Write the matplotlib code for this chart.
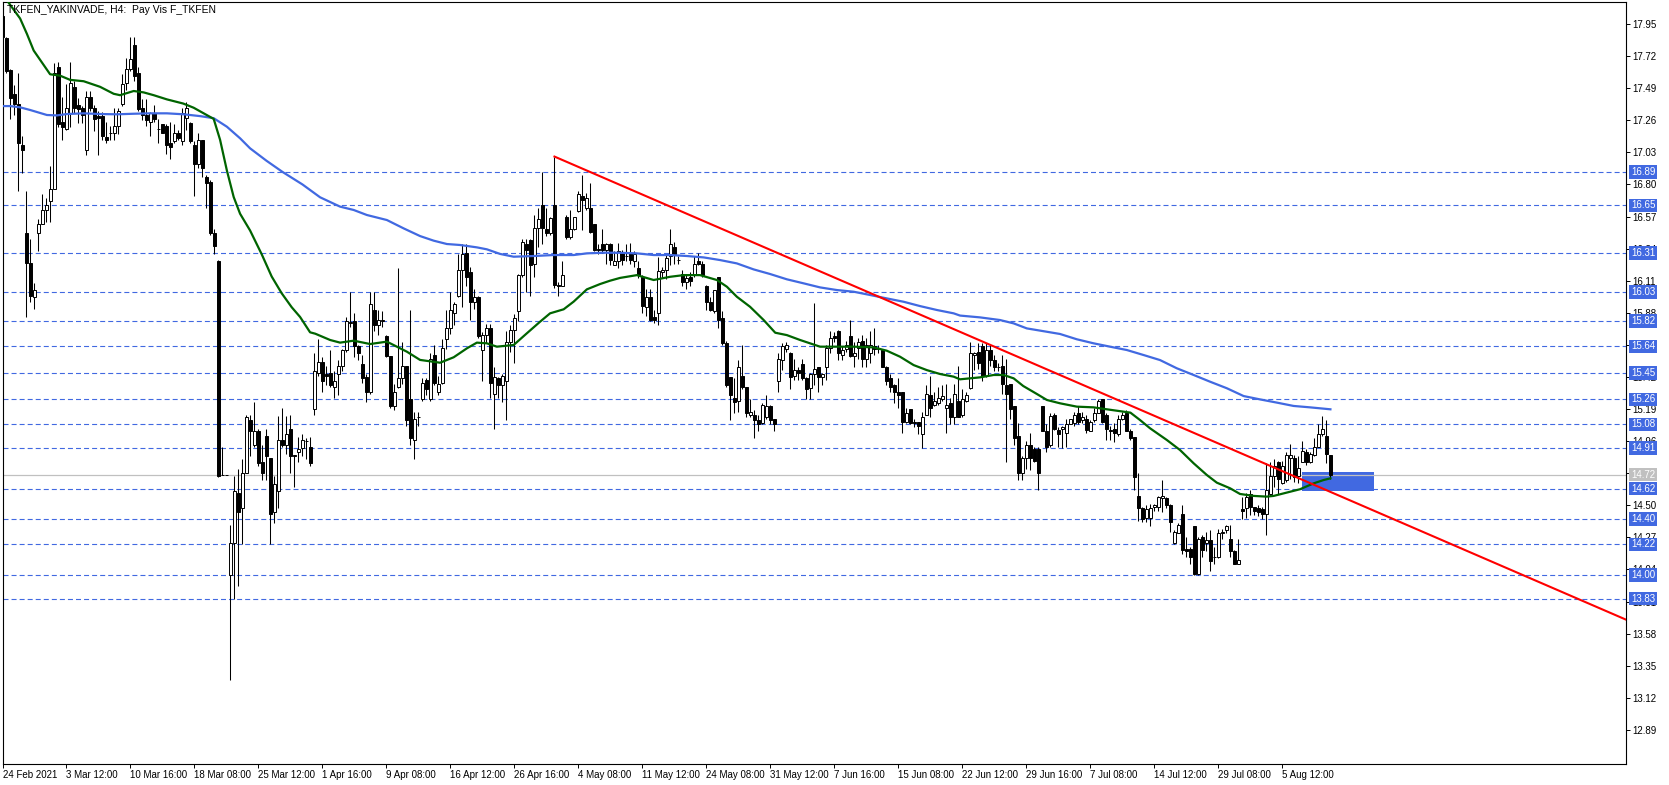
import matplotlib
matplotlib.use("Agg")
import matplotlib.pyplot as plt
from matplotlib.patches import Rectangle
import numpy as np

plt.rcParams['font.family'] = ['Liberation Sans', 'DejaVu Sans']
plt.rcParams['lines.scale_dashes'] = False

title = "TKFEN_YAKINVADE, H4:  Pay Vis F_TKFEN"

opens = [
    18.01, 17.85, 17.62, 17.45, 17.38, 17.08, 16.45, 16.24, 15.99, 16.45,
    16.52, 16.62, 16.68, 16.77, 17.64, 17.25, 17.20, 17.31, 17.50, 17.37,
    17.35, 17.05, 17.43, 17.35, 17.29, 17.29, 17.14, 17.17, 17.17, 17.22,
    17.38, 17.53, 17.63, 17.80, 17.60, 17.35, 17.30, 17.25, 17.31, 17.20,
    17.23, 17.22, 17.10, 17.11, 17.17, 17.11, 17.28, 17.24, 17.08, 16.95,
    17.12, 16.85, 16.82, 16.45, 16.25, 14.72, 14.72, 14.00, 14.23, 14.59,
    14.48, 14.73, 15.11, 14.93, 15.03, 14.81, 15.00, 14.84, 14.45, 14.60,
    14.97, 14.93, 15.05, 14.86, 14.88, 14.91, 14.96, 14.92, 15.19, 15.45,
    15.53, 15.44, 15.45, 15.35, 15.44, 15.50, 15.61, 15.81, 15.82, 15.64,
    15.51, 15.42, 15.31, 15.90, 15.79, 15.82, 15.71, 15.57, 15.21, 15.35,
    15.41, 15.50, 15.26, 14.97, 15.13, 15.26, 15.40, 15.26, 15.58, 15.31,
    15.38, 15.69, 15.77, 15.88, 16.00, 16.19, 16.31, 16.17, 15.96, 15.99,
    15.61, 15.72, 15.77, 15.30, 15.41, 15.36, 15.39, 15.67, 15.76, 15.89,
    16.15, 16.37, 16.40, 16.23, 16.49, 16.65, 16.48, 16.45, 16.65, 16.08,
    16.07, 16.57, 16.42, 16.48, 16.61, 16.72, 16.63, 16.63, 16.52, 16.34,
    16.37, 16.33, 16.37, 16.22, 16.25, 16.31, 16.29, 16.31, 16.25, 16.20,
    16.14, 15.92, 15.99, 15.85, 15.88, 16.17, 16.19, 16.29, 16.35, 16.26,
    16.16, 16.10, 16.14, 16.15, 16.25, 16.23, 16.07, 15.96, 15.89, 16.14,
    15.84, 15.66, 15.42, 15.27, 15.25, 15.43, 15.35, 15.15, 15.15, 15.11,
    15.09, 15.13, 15.21, 15.12, 15.39, 15.54, 15.62, 15.59, 15.43, 15.47,
    15.51, 15.41, 15.34, 15.44, 15.49, 15.42, 15.49, 15.63, 15.71, 15.75,
    15.58, 15.62, 15.71, 15.57, 15.63, 15.68, 15.55, 15.59, 15.64, 15.62,
    15.61, 15.49, 15.41, 15.36, 15.31, 15.31, 15.10, 15.19, 15.10, 15.10,
    15.01, 15.15, 15.29, 15.22, 15.23, 15.26, 15.20, 15.23, 15.13, 15.25,
    15.15, 15.25, 15.34, 15.58, 15.60, 15.64, 15.43, 15.61, 15.54, 15.49,
    15.50, 15.36, 15.37, 15.21, 15.00, 14.73, 14.84, 14.93, 14.90, 14.90,
    15.21, 15.03, 14.93, 15.15, 15.04, 15.05, 15.02, 15.08, 15.09, 15.16,
    15.11, 15.12, 15.03, 15.11, 15.16, 15.26, 15.15, 15.04, 15.05, 15.01,
    15.12, 15.16, 15.03, 14.99, 14.57, 14.48, 14.41, 14.41, 14.49, 14.49,
    14.55, 14.55, 14.50, 14.23, 14.30, 14.44, 14.19, 14.19, 14.35, 14.01,
    14.27, 14.23, 14.25, 14.13, 14.13, 14.30, 14.32, 14.26, 14.17, 14.08,
    14.47, 14.48, 14.58, 14.49, 14.48, 14.47, 14.44, 14.58, 14.71, 14.81,
    14.66, 14.68, 14.84, 14.84, 14.71, 14.81, 14.88, 14.81, 14.86, 14.92,
    15.01, 15.00, 14.86,
]

highs = [
    18.08, 17.86, 17.63, 17.51, 17.60, 17.15, 16.75, 16.41, 16.09, 16.55,
    16.73, 16.70, 16.93, 17.67, 17.68, 17.43, 17.52, 17.68, 17.54, 17.42,
    17.36, 17.47, 17.47, 17.37, 17.33, 17.32, 17.25, 17.22, 17.35, 17.35,
    17.59, 17.71, 17.86, 17.86, 17.64, 17.41, 17.41, 17.32, 17.37, 17.27,
    17.23, 17.23, 17.25, 17.23, 17.19, 17.35, 17.39, 17.25, 17.11, 17.17,
    17.12, 16.87, 16.83, 16.48, 16.26, 14.92, 14.72, 14.36, 14.71, 14.76,
    14.83, 15.15, 15.15, 15.24, 15.05, 14.93, 15.05, 14.84, 14.71, 15.14,
    15.20, 15.14, 15.15, 14.86, 14.99, 15.01, 14.98, 14.99, 15.59, 15.69,
    15.56, 15.50, 15.61, 15.46, 15.54, 15.62, 15.85, 16.03, 15.88, 15.65,
    15.58, 15.44, 16.03, 16.03, 15.90, 15.89, 15.72, 15.57, 15.37, 16.20,
    15.67, 15.50, 15.90, 15.17, 15.17, 15.41, 15.41, 15.59, 15.65, 15.43,
    15.69, 15.90, 16.03, 15.96, 16.30, 16.37, 16.37, 16.21, 16.05, 16.00,
    15.74, 15.80, 15.80, 15.49, 15.42, 15.44, 15.75, 15.79, 15.87, 16.16,
    16.41, 16.41, 16.41, 16.58, 16.63, 16.89, 16.63, 16.57, 17.00, 16.10,
    16.25, 16.58, 16.62, 16.57, 16.75, 16.87, 16.74, 16.81, 16.52, 16.37,
    16.48, 16.38, 16.38, 16.32, 16.38, 16.33, 16.37, 16.38, 16.32, 16.25,
    16.15, 16.05, 16.05, 15.90, 16.28, 16.21, 16.30, 16.48, 16.39, 16.29,
    16.19, 16.16, 16.17, 16.29, 16.31, 16.25, 16.08, 15.99, 16.04, 16.14,
    15.89, 15.68, 15.42, 15.41, 15.54, 15.65, 15.35, 15.26, 15.18, 15.15,
    15.23, 15.29, 15.22, 15.12, 15.59, 15.66, 15.67, 15.60, 15.55, 15.49,
    15.55, 15.42, 15.45, 15.95, 15.49, 15.45, 15.65, 15.75, 15.74, 15.76,
    15.64, 15.68, 15.83, 15.67, 15.70, 15.72, 15.70, 15.75, 15.77, 15.65,
    15.62, 15.50, 15.44, 15.37, 15.41, 15.31, 15.20, 15.19, 15.12, 15.10,
    15.17, 15.36, 15.43, 15.31, 15.35, 15.36, 15.37, 15.27, 15.37, 15.50,
    15.33, 15.31, 15.67, 15.60, 15.66, 15.66, 15.66, 15.65, 15.58, 15.52,
    15.58, 15.55, 15.37, 15.21, 15.09, 14.85, 14.96, 15.02, 14.92, 14.92,
    15.21, 15.08, 15.16, 15.16, 15.06, 15.07, 15.12, 15.12, 15.17, 15.21,
    15.17, 15.15, 15.11, 15.20, 15.26, 15.26, 15.16, 15.07, 15.09, 15.15,
    15.17, 15.18, 15.05, 14.99, 14.73, 14.49, 14.50, 14.51, 14.51, 14.57,
    14.68, 14.56, 14.51, 14.32, 14.37, 14.50, 14.27, 14.20, 14.35, 14.27,
    14.29, 14.31, 14.32, 14.20, 14.33, 14.33, 14.36, 14.36, 14.18, 14.26,
    14.56, 14.59, 14.61, 14.49, 14.50, 14.49, 14.80, 14.81, 14.83, 14.82,
    14.82, 14.88, 14.94, 14.86, 14.85, 14.96, 14.90, 14.88, 14.98, 15.08,
    15.14, 15.11, 14.86,
]

lows = [
    17.84, 17.60, 17.27, 17.30, 16.75, 16.88, 15.85, 15.96, 15.91, 16.32,
    16.52, 16.53, 16.53, 16.77, 17.21, 17.12, 17.19, 17.21, 17.31, 17.24,
    17.24, 17.01, 17.33, 17.18, 17.01, 17.12, 17.10, 17.12, 17.12, 17.16,
    17.36, 17.48, 17.61, 17.54, 17.33, 17.26, 17.22, 17.15, 17.25, 17.10,
    17.17, 17.02, 16.98, 17.10, 17.12, 17.08, 17.19, 17.10, 16.72, 16.92,
    16.85, 16.63, 16.44, 16.30, 14.70, 14.72, 14.72, 13.25, 13.83, 13.92,
    14.22, 14.73, 14.85, 14.92, 14.78, 14.68, 14.68, 14.22, 14.37, 14.48,
    14.92, 14.87, 14.73, 14.63, 14.81, 14.85, 14.83, 14.78, 15.15, 15.43,
    15.31, 15.36, 15.35, 15.27, 15.29, 15.46, 15.60, 15.78, 15.56, 15.54,
    15.38, 15.24, 15.30, 15.75, 15.72, 15.78, 15.56, 15.20, 15.18, 15.34,
    15.37, 15.07, 14.93, 14.83, 15.07, 15.25, 15.29, 15.25, 15.36, 15.29,
    15.37, 15.62, 15.73, 15.79, 15.99, 15.92, 16.07, 15.83, 15.91, 15.70,
    15.39, 15.66, 15.27, 15.05, 15.27, 15.24, 15.11, 15.60, 15.52, 15.82,
    16.14, 16.03, 16.00, 16.14, 16.35, 16.37, 16.43, 16.44, 16.06, 16.00,
    16.07, 16.41, 16.41, 16.47, 16.60, 16.47, 16.62, 16.45, 16.32, 16.30,
    16.31, 16.23, 16.22, 16.22, 16.20, 16.22, 16.25, 16.23, 16.21, 16.13,
    15.88, 15.86, 15.82, 15.81, 15.79, 16.13, 16.12, 16.22, 16.23, 16.23,
    16.07, 16.05, 16.07, 16.14, 16.22, 16.14, 15.90, 15.89, 15.88, 15.77,
    15.65, 15.35, 15.11, 15.16, 15.17, 15.33, 15.13, 15.13, 14.98, 15.03,
    15.08, 15.12, 15.08, 15.03, 15.31, 15.47, 15.60, 15.33, 15.40, 15.40,
    15.40, 15.26, 15.26, 15.36, 15.31, 15.36, 15.40, 15.59, 15.67, 15.54,
    15.54, 15.60, 15.56, 15.49, 15.55, 15.49, 15.49, 15.52, 15.58, 15.59,
    15.49, 15.36, 15.31, 15.23, 15.20, 15.02, 15.09, 15.08, 15.06, 15.01,
    14.91, 15.15, 15.13, 15.21, 15.22, 15.25, 15.02, 15.08, 15.08, 15.13,
    15.13, 15.24, 15.33, 15.47, 15.48, 15.39, 15.42, 15.50, 15.46, 15.46,
    15.30, 14.81, 15.12, 14.93, 14.68, 14.68, 14.76, 14.75, 14.81, 14.61,
    15.03, 14.88, 14.92, 15.04, 14.92, 14.91, 14.92, 15.08, 15.07, 15.08,
    15.09, 15.02, 15.03, 15.10, 15.16, 15.09, 14.97, 14.97, 14.95, 15.00,
    15.11, 15.03, 14.97, 14.61, 14.39, 14.38, 14.38, 14.35, 14.46, 14.46,
    14.45, 14.48, 14.31, 14.22, 14.30, 14.15, 14.13, 14.08, 14.00, 14.00,
    14.13, 14.17, 14.03, 14.08, 14.12, 14.26, 14.30, 14.13, 14.08, 14.08,
    14.40, 14.41, 14.43, 14.43, 14.42, 14.40, 14.29, 14.57, 14.63, 14.58,
    14.65, 14.67, 14.69, 14.67, 14.66, 14.81, 14.79, 14.80, 14.85, 14.92,
    15.00, 14.80, 14.69,
]

closes = [
    17.86, 17.61, 17.42, 17.38, 17.10, 17.05, 16.24, 16.00, 16.04, 16.52,
    16.62, 16.65, 16.77, 17.60, 17.23, 17.21, 17.35, 17.53, 17.35, 17.34,
    17.30, 17.43, 17.35, 17.27, 17.28, 17.15, 17.12, 17.17, 17.22, 17.33,
    17.52, 17.63, 17.70, 17.58, 17.34, 17.30, 17.26, 17.31, 17.27, 17.20,
    17.17, 17.08, 17.07, 17.17, 17.13, 17.31, 17.35, 17.11, 16.95, 17.12,
    16.92, 16.81, 16.45, 16.36, 14.71, 14.72, 14.72, 14.23, 14.60, 14.45,
    14.73, 15.13, 15.03, 15.03, 14.80, 14.73, 14.85, 14.44, 14.65, 14.97,
    14.93, 15.01, 14.85, 14.85, 14.90, 14.97, 14.96, 14.80, 15.46, 15.53,
    15.39, 15.43, 15.36, 15.39, 15.50, 15.61, 15.82, 15.81, 15.64, 15.59,
    15.41, 15.31, 15.94, 15.79, 15.83, 15.83, 15.57, 15.21, 15.31, 15.41,
    15.50, 15.11, 14.98, 15.12, 15.13, 15.38, 15.33, 15.55, 15.38, 15.37,
    15.63, 15.77, 15.90, 15.94, 16.19, 16.30, 16.14, 15.96, 15.99, 15.71,
    15.72, 15.77, 15.38, 15.42, 15.36, 15.43, 15.67, 15.76, 15.84, 16.15,
    16.39, 16.33, 16.22, 16.49, 16.55, 16.49, 16.45, 16.56, 16.08, 16.07,
    16.15, 16.42, 16.48, 16.57, 16.73, 16.69, 16.70, 16.46, 16.33, 16.33,
    16.33, 16.37, 16.26, 16.25, 16.32, 16.26, 16.29, 16.26, 16.30, 16.15,
    15.93, 15.99, 15.83, 15.83, 16.18, 16.19, 16.27, 16.37, 16.30, 16.26,
    16.10, 16.13, 16.11, 16.23, 16.23, 16.15, 15.96, 15.90, 16.04, 15.83,
    15.66, 15.36, 15.29, 15.24, 15.49, 15.35, 15.16, 15.17, 15.11, 15.08,
    15.22, 15.21, 15.11, 15.08, 15.55, 15.64, 15.65, 15.42, 15.47, 15.45,
    15.41, 15.33, 15.44, 15.48, 15.42, 15.44, 15.63, 15.70, 15.70, 15.59,
    15.61, 15.65, 15.57, 15.59, 15.67, 15.55, 15.65, 15.65, 15.62, 15.63,
    15.49, 15.39, 15.35, 15.31, 15.29, 15.10, 15.16, 15.09, 15.09, 15.07,
    15.13, 15.30, 15.20, 15.25, 15.27, 15.28, 15.22, 15.13, 15.30, 15.13,
    15.26, 15.29, 15.59, 15.59, 15.52, 15.43, 15.61, 15.54, 15.49, 15.49,
    15.37, 15.30, 15.19, 14.98, 14.73, 14.84, 14.93, 14.84, 14.82, 14.73,
    15.03, 14.92, 15.14, 15.05, 15.01, 15.06, 15.08, 15.12, 15.15, 15.10,
    15.13, 15.04, 15.10, 15.16, 15.25, 15.10, 15.05, 15.03, 15.02, 15.12,
    15.15, 15.03, 14.98, 14.70, 14.48, 14.40, 14.47, 14.48, 14.50, 14.56,
    14.57, 14.50, 14.38, 14.31, 14.36, 14.18, 14.17, 14.13, 14.01, 14.26,
    14.18, 14.25, 14.10, 14.13, 14.30, 14.31, 14.35, 14.17, 14.08, 14.11,
    14.46, 14.56, 14.49, 14.46, 14.45, 14.44, 14.61, 14.71, 14.78, 14.69,
    14.78, 14.86, 14.86, 14.70, 14.77, 14.89, 14.81, 14.87, 14.92, 15.01,
    15.05, 14.87, 14.72,
]

# Moving averages (bar index, price)
ma_green_x = [0, 1.1, 4.4, 6.1, 7.8, 11.9, 14.4, 16.9, 20.3, 24.4, 27.8, 29.4, 32.8, 35.3,
              37.8, 41.1, 45.2, 47.8, 50.3, 52.8, 54.4, 56.1, 57.8, 59.4, 61.9, 64.8, 67.3,
              69.8, 72.3, 74.4, 76.9, 78.2, 81.9, 84.4, 87.8, 91.9, 96.1, 98.6, 101.1, 104.4,
              109.4, 112.8, 116.1, 118.6, 121.1, 123.6, 127.8, 131.1, 134.4, 136.9, 140.3,
              142.8, 146.1, 149.4, 151.9, 154.4, 158.6, 162.8, 166.9, 170.3, 174.4, 178.6,
              181.1, 183.6, 186.9, 190.3, 193.2, 196.1, 199.4, 204.4, 208.6, 212.8, 217.8,
              221.1, 224.4, 227.8, 231.1, 234.4, 237.8, 239.4, 244.4, 247.8, 250.3, 252.8,
              255.2, 258.6, 261.1, 264.4, 268.6, 272.8, 276.1, 280.3, 282.0, 284.4, 286.9,
              291.1, 294.4, 297.8, 301.1, 303.6, 306.9, 309.4, 312.8, 316.1, 317.8, 321.1,
              324.4, 327.8, 330.3, 332.0]
ma_green_y = [18.18, 18.12, 17.99, 17.88, 17.76, 17.59, 17.58, 17.55, 17.54, 17.50, 17.45, 17.44,
              17.47, 17.46, 17.44, 17.41, 17.38, 17.35, 17.31, 17.27, 17.12, 16.90, 16.71, 16.59,
              16.47, 16.30, 16.14, 16.02, 15.92, 15.85, 15.74, 15.73, 15.685, 15.666, 15.68,
              15.656, 15.673, 15.637, 15.601, 15.542, 15.522, 15.561, 15.625, 15.666, 15.661,
              15.637, 15.649, 15.733, 15.816, 15.876, 15.905, 15.96, 16.048, 16.086, 16.11,
              16.13, 16.15, 16.115, 16.138, 16.15, 16.15, 16.115, 16.067, 15.995, 15.923,
              15.828, 15.737, 15.72, 15.685, 15.637, 15.637, 15.637, 15.632, 15.608, 15.565,
              15.505, 15.469, 15.441, 15.422, 15.403, 15.417, 15.434, 15.434, 15.41, 15.355,
              15.298, 15.255, 15.231, 15.207, 15.202, 15.188, 15.171, 15.164, 15.111, 15.052,
              14.968, 14.896, 14.801, 14.717, 14.662, 14.622, 14.581, 14.567, 14.562, 14.567,
              14.591, 14.615, 14.657, 14.681, 14.693]

ma_blue_x = [0, 1.9, 4.4, 6.9, 11.1, 13.6, 16.1, 20.3, 24.4, 28.6, 32.8, 36.9, 41.1, 45.3, 49.4,
             52.8, 56.1, 59.4, 61.9, 66, 70, 75, 79.4, 84.4, 87.8, 91.1, 96.1, 100.3, 104.4,
             107.8, 111.1, 114.4, 118.6, 121.1, 124.4, 127.8, 132.8, 137.8, 142.8, 146.1,
             150.3, 154.4, 158.6, 162.8, 166.9, 171.1, 175.3, 179.4, 183.6, 187.8, 191.9,
             196.1, 200.3, 204.4, 208.6, 212.8, 217.0, 221.1, 225.3, 229.4, 233.6, 237.8,
             239.4, 244.4, 249.4, 252.8, 256.1, 261.1, 264.4, 268.6, 272.8, 276.9, 281.1,
             285.3, 289.4, 293.6, 297.8, 301.9, 306.1, 310.3, 314.4, 318.6, 322.8, 326.9, 332]
ma_blue_y = [17.362, 17.362, 17.353, 17.334, 17.298, 17.295, 17.305, 17.31, 17.305, 17.303,
             17.307, 17.31, 17.31, 17.303, 17.29, 17.275, 17.214, 17.131, 17.059, 16.97, 16.89,
             16.80, 16.708, 16.641, 16.617, 16.581, 16.545, 16.485, 16.43, 16.397, 16.373,
             16.366, 16.349, 16.335, 16.302, 16.282, 16.287, 16.294, 16.294, 16.306, 16.311,
             16.31, 16.306, 16.294, 16.294, 16.287, 16.277, 16.258, 16.234, 16.191, 16.158,
             16.12, 16.091, 16.062, 16.043, 16.031, 16.007, 15.983, 15.959, 15.928, 15.9,
             15.876, 15.86, 15.847, 15.828, 15.804, 15.768, 15.744, 15.728, 15.69, 15.661,
             15.637, 15.613, 15.577, 15.541, 15.482, 15.434, 15.386, 15.339, 15.283, 15.259,
             15.236, 15.212, 15.202, 15.188]

trend_x = [138, 405.9]
trend_y = [17.00, 13.68]

levels = [16.89, 16.65, 16.31, 16.03, 15.82, 15.64, 15.45, 15.26, 15.08, 14.91,
          14.62, 14.40, 14.22, 14.00, 13.83]
bid = 14.72

zone_bars = [325, 343]
zone_prices = [14.604, 14.739]

ytick_vals = [12.89, 13.12, 13.35, 13.58, 13.81, 14.04, 14.27, 14.50, 14.73, 14.96, 15.19,
              15.42, 15.65, 15.88, 16.11, 16.34, 16.57, 16.80, 17.03, 17.26, 17.49, 17.72, 17.95]

xtick_bars = [0, 16, 32, 48, 64, 80, 96, 112, 128, 144, 160, 176, 192, 208, 224, 240,
              256, 272, 288, 304, 320]
xtick_labels = ["24 Feb 2021", "3 Mar 12:00", "10 Mar 16:00", "18 Mar 08:00", "25 Mar 12:00",
                "1 Apr 16:00", "9 Apr 08:00", "16 Apr 12:00", "26 Apr 16:00", "4 May 08:00",
                "11 May 12:00", "24 May 08:00", "31 May 12:00", "7 Jun 16:00", "15 Jun 08:00",
                "22 Jun 12:00", "29 Jun 16:00", "7 Jul 08:00", "14 Jul 12:00", "29 Jul 08:00",
                "5 Aug 12:00"]

# ---------------------------------------------------------------
W, H = 1669, 785
fig = plt.figure(figsize=(W / 100, H / 100), dpi=100)
left_px, right_px, top_px, bot_px = 2.5, 1626, 2.3, 764
ax = fig.add_axes([left_px / W, 1 - bot_px / H, (right_px - left_px) / W, (bot_px - top_px) / H])
ax.set_xlim(0.05, 405.9)
ax.set_ylim(12.645, 18.106)

BLUE = '#4169E1'

o = np.array(opens); h = np.array(highs); l = np.array(lows); c = np.array(closes)
x = np.arange(len(o))

# zone rectangle
ax.add_patch(Rectangle((zone_bars[0], zone_prices[0]), zone_bars[1] - zone_bars[0],
                       zone_prices[1] - zone_prices[0], facecolor=BLUE, edgecolor='none', zorder=1))

for lv in levels:
    ax.axhline(lv, color=BLUE, lw=0.8, ls=(0, (3.6, 2.2)), zorder=1.5)
ax.axhline(bid, color='#C0C0C0', lw=0.9, zorder=2)

# candles
ax.vlines(x, l, h, color='black', lw=0.75, zorder=3)
up = c >= o
bw = 0.62
ax.bar(x[up], np.maximum(c[up] - o[up], 0.0005), width=bw, bottom=o[up], facecolor='white',
       edgecolor='black', linewidth=0.7, zorder=4)
ax.bar(x[~up], o[~up] - c[~up], width=bw, bottom=c[~up], facecolor='black',
       edgecolor='black', linewidth=0.7, zorder=4)

ax.plot(ma_blue_x, ma_blue_y, color=BLUE, lw=1.6, zorder=5, solid_joinstyle='round')
ax.plot(ma_green_x, ma_green_y, color='#006400', lw=1.6, zorder=5, solid_joinstyle='round')
ax.plot(trend_x, trend_y, color='#FF0000', lw=1.5, zorder=6)

for s in ax.spines.values():
    s.set_color('black'); s.set_linewidth(0.8)

ax.yaxis.tick_right()
ax.set_yticks(ytick_vals)
ax.set_yticklabels([f"{v:.2f}" for v in ytick_vals])
ax.tick_params(axis='y', direction='out', length=3, width=0.7, pad=1.5, labelsize=7, colors='black')
ax.set_xticks(xtick_bars)
ax.set_xticklabels(xtick_labels, ha='left')
ax.tick_params(axis='x', direction='out', length=3, width=0.7, pad=1.5, labelsize=7, colors='black')

# right-side price label boxes
for lv in levels:
    ax.annotate(f"{lv:.2f}", xy=(1, lv), xycoords=('axes fraction', 'data'), xytext=(3.6, 0),
                textcoords='offset points', ha='left', va='center', color='white', fontsize=7,
                bbox=dict(boxstyle='square,pad=0.18', fc=BLUE, ec='none'),
                annotation_clip=False, zorder=10)
ax.annotate(f"{bid:.2f}", xy=(1, bid), xycoords=('axes fraction', 'data'), xytext=(3.6, 0),
            textcoords='offset points', ha='left', va='center', color='white', fontsize=7,
            bbox=dict(boxstyle='square,pad=0.18', fc='#C0C0C0', ec='none'),
            annotation_clip=False, zorder=10)

fig.text(7 / W, 1 - 10 / H, title, fontsize=7.5, ha='left', va='center', color='black')

fig.savefig('out.png', dpi=100)
